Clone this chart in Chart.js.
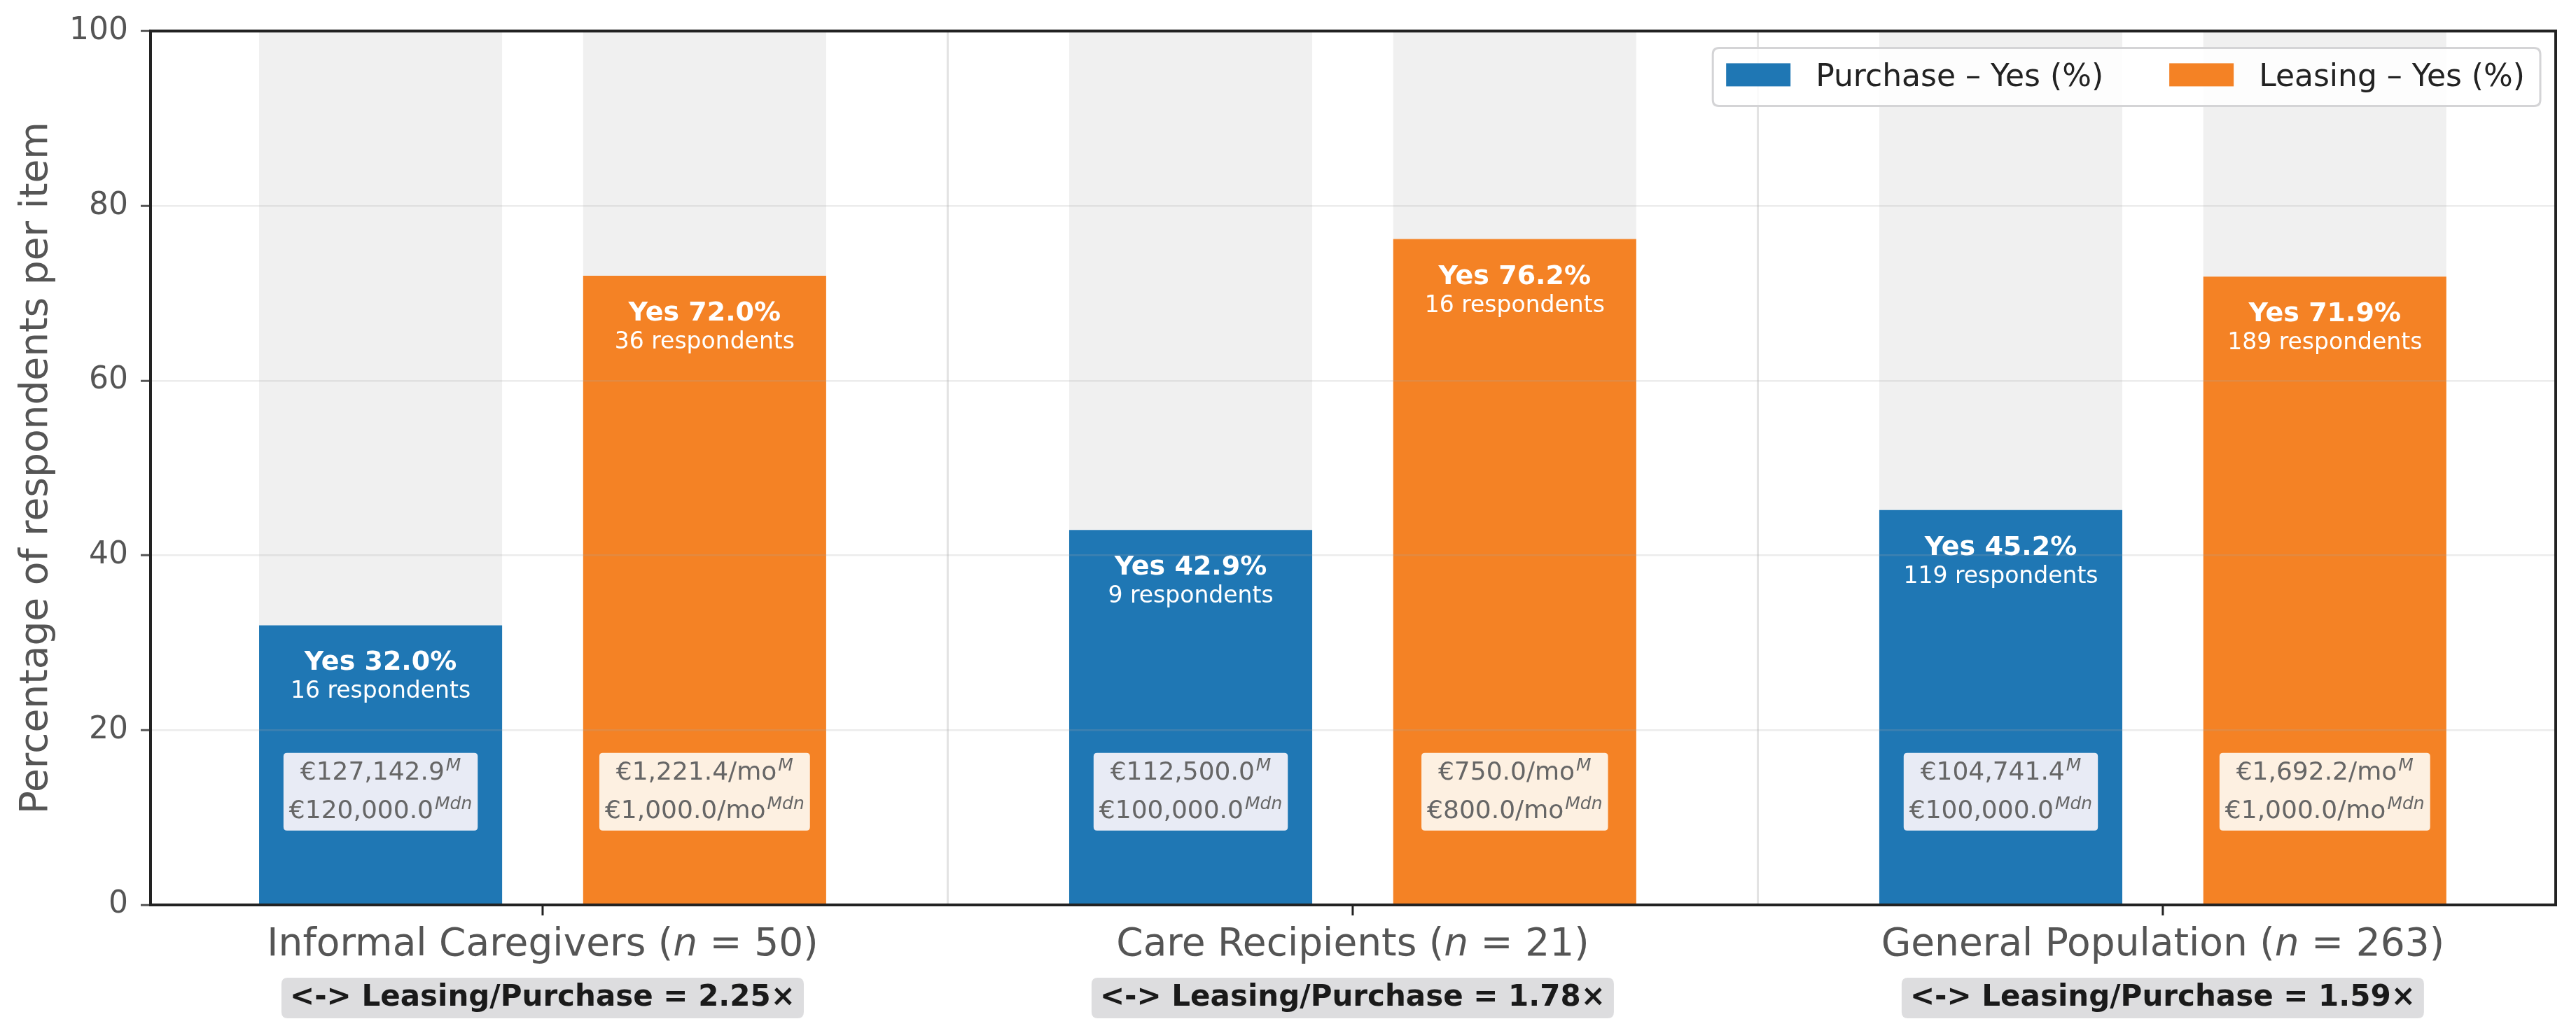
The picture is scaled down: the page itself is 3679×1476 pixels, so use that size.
<!DOCTYPE html>
<html>
<head>
<meta charset="utf-8">
<title>Purchase vs leasing willingness</title>
<script src="https://cdn.jsdelivr.net/npm/chart.js@4.4.1/dist/chart.umd.min.js"></script>
<style>
  html, body { margin: 0; padding: 0; background: #fff; }
  canvas { display: block; }
</style>
</head>
<body>
<canvas id="myChart" width="3679" height="1476" style="width:3679px;height:1476px"></canvas>
<script>
// datos
const groups = ["Informal Caregivers", "Care Recipients", "General Population"];
const groupN = [50, 21, 263];
const purchaseYes = [32.0, 42.9, 45.2];
const leasingYes = [72.0, 76.2, 71.9];
const purchaseCount = [16, 9, 119];
const leasingCount = [36, 16, 189];
const purchaseMean = [127142.9, 112500.0, 104741.4];
const purchaseMedian = [120000.0, 100000.0, 100000.0];
const leasingMean = [1221.4, 750.0, 1692.2];
const leasingMedian = [1000.0, 800.0, 1000.0];
const yTicks = [0, 20, 40, 60, 80, 100];

const FONT = '"DejaVu Sans"';
const BLUE = "#1f77b4";
const ORANGE = "#f48225";
const PRICE_Y = 13; // altura (en %) de las cajas de precio

Chart.defaults.font.family = "DejaVu Sans";

const eur = (v) => "€" + v.toLocaleString("en-US", { minimumFractionDigits: 1, maximumFractionDigits: 1 });
const pts = (arr) => arr.map((v, i) => ({ x: i, y: v }));

function rr(ctx, x, y, w, h, r) {
  ctx.beginPath();
  ctx.moveTo(x + r, y);
  ctx.lineTo(x + w - r, y);
  ctx.quadraticCurveTo(x + w, y, x + w, y + r);
  ctx.lineTo(x + w, y + h - r);
  ctx.quadraticCurveTo(x + w, y + h, x + w - r, y + h);
  ctx.lineTo(x + r, y + h);
  ctx.quadraticCurveTo(x, y + h, x, y + h - r);
  ctx.lineTo(x, y + r);
  ctx.quadraticCurveTo(x, y, x + r, y);
  ctx.closePath();
}

function priceBox(ctx, cx, cy, lines, fill) {
  const mainFont = `36px ${FONT}`, supFont = `italic 25px ${FONT}`;
  const widths = lines.map(([m, s]) => {
    ctx.font = mainFont; const wm = ctx.measureText(m).width;
    ctx.font = supFont; const ws = ctx.measureText(s).width;
    return [wm, ws];
  });
  const w = Math.max(...widths.map(([a, b]) => a + b + 2)) + 16;
  ctx.fillStyle = fill;
  rr(ctx, cx - w / 2, cy - 55, w, 111, 5);
  ctx.fill();
  const base = [cy - 17, cy + 38];
  ctx.textAlign = "left";
  ctx.textBaseline = "alphabetic";
  ctx.fillStyle = "#666";
  lines.forEach(([m, s], k) => {
    const [wm, ws] = widths[k];
    const x0 = cx - (wm + ws + 2) / 2;
    ctx.font = mainFont; ctx.fillText(m, x0, base[k]);
    ctx.font = supFont; ctx.fillText(s, x0 + wm + 2, base[k] - 13);
  });
}

const overlay = {
  id: "overlay",
  afterDraw(chart) {
    const { ctx, chartArea: a, scales: { x, y } } = chart;
    ctx.save();

    // textos dentro de las barras
    [[0, purchaseYes, purchaseCount], [2, leasingYes, leasingCount]].forEach(([di, pct, cnt]) => {
      chart.getDatasetMeta(di).data.forEach((bar, i) => {
        ctx.fillStyle = "#fff";
        ctx.textAlign = "center";
        ctx.textBaseline = "alphabetic";
        ctx.font = `bold 38px ${FONT}`;
        ctx.fillText(`Yes ${pct[i].toFixed(1)}%`, bar.x, bar.y + 64);
        ctx.font = `33px ${FONT}`;
        ctx.fillText(`${cnt[i]} respondents`, bar.x, bar.y + 104);
      });
    });

    // cajas de precio (media / mediana)
    const cy = y.getPixelForValue(PRICE_Y);
    chart.getDatasetMeta(0).data.forEach((bar, i) => {
      priceBox(ctx, bar.x, cy, [[eur(purchaseMean[i]), "M"], [eur(purchaseMedian[i]), "Mdn"]], "#e8ebf5");
    });
    chart.getDatasetMeta(2).data.forEach((bar, i) => {
      priceBox(ctx, bar.x, cy, [[eur(leasingMean[i]) + "/mo", "M"], [eur(leasingMedian[i]) + "/mo", "Mdn"]], "#fdf0e1");
    });

    // marco del grafico
    ctx.strokeStyle = "#222";
    ctx.lineWidth = 4;
    ctx.strokeRect(a.left, a.top, a.right - a.left, a.bottom - a.top);

    // etiquetas del eje x con n en cursiva + caja del ratio
    groups.forEach((g, i) => {
      const cx = x.getPixelForValue(i);
      ctx.strokeStyle = "#222";
      ctx.lineWidth = 3;
      ctx.beginPath();
      ctx.moveTo(cx, a.bottom + 2);
      ctx.lineTo(cx, a.bottom + 15);
      ctx.stroke();

      const parts = [[`${g} (`, `55px ${FONT}`], ["n", `italic 55px ${FONT}`], [` = ${groupN[i]})`, `55px ${FONT}`]];
      let total = 0;
      const ws = parts.map(([t, f]) => { ctx.font = f; const w = ctx.measureText(t).width; total += w; return w; });
      let px = cx - total / 2;
      ctx.fillStyle = "#555";
      ctx.textAlign = "left";
      parts.forEach(([t, f], k) => { ctx.font = f; ctx.fillText(t, px, a.bottom + 72); px += ws[k]; });

      const ratio = (leasingYes[i] / purchaseYes[i]).toFixed(2);
      const txt = `<-> Leasing/Purchase = ${ratio}×`;
      ctx.font = `bold 42px ${FONT}`;
      const tw = ctx.measureText(txt).width;
      ctx.fillStyle = "#dddddf";
      rr(ctx, cx - tw / 2 - 12, a.bottom + 104, tw + 24, 58, 9);
      ctx.fill();
      ctx.fillStyle = "#1a1a1a";
      ctx.textAlign = "center";
      ctx.fillText(txt, cx, a.bottom + 144);
    });

    // leyenda
    const items = [[chart.data.datasets[0].label, BLUE], [chart.data.datasets[2].label, ORANGE]];
    ctx.font = `44px ${FONT}`;
    const tws = items.map(([t]) => ctx.measureText(t).width);
    const boxW = 19 + 92 + 36 + tws[0] + 94 + 92 + 36 + tws[1] + 22;
    const bx = a.right - 22 - boxW, by = a.top + 24;
    ctx.fillStyle = "rgba(255,255,255,0.85)";
    rr(ctx, bx, by, boxW, 83, 9);
    ctx.fill();
    ctx.strokeStyle = "#d4d4d6";
    ctx.lineWidth = 3;
    ctx.stroke();
    let lx = bx + 19;
    items.forEach(([t, c], k) => {
      ctx.fillStyle = c;
      ctx.fillRect(lx, by + 22, 92, 33);
      ctx.fillStyle = "#222";
      ctx.textAlign = "left";
      ctx.fillText(t, lx + 92 + 36, by + 55);
      lx += 92 + 36 + tws[k] + 94;
    });

    ctx.restore();
  },
};

new Chart(document.getElementById("myChart"), {
  type: "bar",
  data: {
    datasets: [
      { label: "Purchase – Yes (%)", data: pts(purchaseYes), backgroundColor: BLUE, stack: "p" },
      { label: "rest-p", data: pts(purchaseYes.map((v) => 100 - v)), backgroundColor: "#f0f0f0", stack: "p" },
      { label: "Leasing – Yes (%)", data: pts(leasingYes), backgroundColor: ORANGE, stack: "l" },
      { label: "rest-l", data: pts(leasingYes.map((v) => 100 - v)), backgroundColor: "#f0f0f0", stack: "l" },
    ],
  },
  options: {
    responsive: false,
    devicePixelRatio: 1,
    animation: false,
    categoryPercentage: 0.8,
    barPercentage: 0.75,
    layout: { padding: { left: 0, top: 43, right: 29, bottom: 0 } },
    plugins: { legend: { display: false }, tooltip: { enabled: false } },
    scales: {
      x: {
        type: "linear",
        stacked: true,
        offset: false,
        min: -0.484,
        max: 2.485,
        afterBuildTicks: (s) => { s.ticks = [{ value: 0.5 }, { value: 1.5 }]; },
        grid: { offset: false, color: "#e3e3e3", lineWidth: 3, drawTicks: false },
        border: { display: false },
        ticks: { display: false },
        afterFit: (s) => { s.height = 183; },
      },
      y: {
        stacked: true,
        min: 0,
        max: 100,
        afterBuildTicks: (s) => { s.ticks = yTicks.map((v) => ({ value: v })); },
        grid: { color: "rgba(170,170,170,0.22)", lineWidth: 2.5, z: 1, tickLength: 14, tickColor: "#555", tickWidth: 3 },
        border: { display: false },
        ticks: { font: { size: 44 }, color: "#555", padding: 18 },
        title: {
          display: true,
          text: "Percentage of respondents per item",
          font: { size: 55 },
          color: "#555",
          padding: { top: 20, bottom: 0 },
        },
        afterFit: (s) => { s.width = 215; },
      },
    },
  },
  plugins: [overlay],
});
</script>
</body>
</html>
